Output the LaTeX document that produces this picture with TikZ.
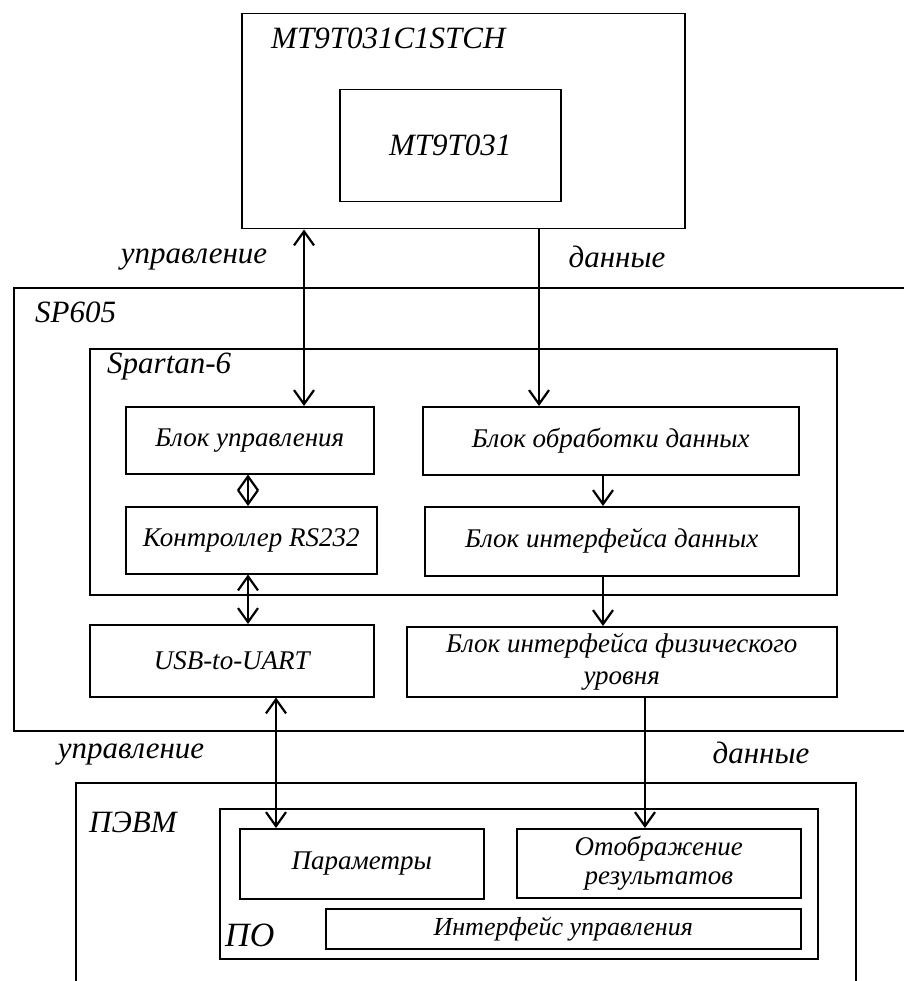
\documentclass[tikz,border=0pt]{standalone}
\usepackage{fontspec}
\setmainfont{Liberation Serif}
\usetikzlibrary{arrows.meta,calc}
\begin{document}
\begin{tikzpicture}[x=1pt,y=-1pt,
  box/.style={draw,line width=1.5pt,anchor=north west,inner sep=0pt,align=center,font=\itshape\fontsize{27}{32}\selectfont},
  lbl/.style={font=\itshape\fontsize{31}{34}\selectfont,inner sep=0pt},
  conn/.style={line width=2.2pt},
  >={Straight Barb[length=14pt,width=20pt,line width=2.2pt]}]
\useasboundingbox (0,0) rectangle (903,981);
\fill[white] (0,0) rectangle (903,981);
% boxes
\node[box,minimum width=443pt,minimum height=215pt] (cam) at (241,13) {};
\node[box,minimum width=221pt,minimum height=112pt,font=\itshape\fontsize{31}{34}\selectfont] (sensor) at (339,89) {MT9T031};
\node[box,minimum width=930pt,minimum height=443pt] (sp) at (13,287) {};
\node[box,minimum width=747pt,minimum height=246pt] (fpga) at (89,348) {};
\node[box,minimum width=248pt,minimum height=67pt] (ctrl) at (125,406) {Блок управления};
\node[box,minimum width=376pt,minimum height=68pt] (proc) at (422,406) {Блок обработки данных};
\node[box,minimum width=251pt,minimum height=67pt] (rs) at (125,506) {Контроллер RS232};
\node[box,minimum width=374pt,minimum height=69pt] (dif) at (424,506) {Блок интерфейса данных};
\node[box,minimum width=284pt,minimum height=72pt] (usb) at (89,624) {USB-to-UART};
\node[box,minimum width=430pt,minimum height=70pt] (phy) at (406,626) {Блок интерфейса физического\\уровня};
\node[box,minimum width=780pt,minimum height=240pt] (pc) at (75,782) {};
\node[box,minimum width=598pt,minimum height=150pt] (po) at (219,808) {};
\node[box,minimum width=244pt,minimum height=70pt] (par) at (239,828) {Параметры};
\node[box,minimum width=284pt,minimum height=69pt,font=\itshape\fontsize{27}{29}\selectfont] (disp) at (516,828) {Отображение\\результатов};
\node[box,minimum width=475pt,minimum height=40pt,font=\itshape\fontsize{26}{28}\selectfont] (ui) at (325,908) {Интерфейс управления};
% labels
\node[lbl,anchor=west] (tcam) at (271,38) {MT9T031C1STCH};
\node[lbl,anchor=west] (tsp) at (35,312) {SP605};
\node[lbl,anchor=west] (tfpga) at (107,367) {Spartan-6};
\node[lbl,anchor=west] (tpc) at (89,822) {ПЭВМ};
\node[lbl,anchor=west,font=\itshape\fontsize{34}{36}\selectfont] (tpo) at (225,935) {ПО};
\node[lbl] (u1) at (194,260) {управление};
\node[lbl] (d1) at (617,257) {данные};
\node[lbl] (u2) at (131,755) {управление};
\node[lbl] (d2) at (761,753) {данные};
% connector x positions
\coordinate (xa) at (304,0);
\coordinate (xb) at (539,0);
\coordinate (xc) at (248,0);
\coordinate (xd) at (603,0);
\coordinate (xe) at (276,0);
\coordinate (xf) at (645,0);
% connectors
\draw[conn,<->] (xa |- cam.south) -- (xa |- ctrl.north);
\draw[conn,->] (xb |- cam.south) -- (xb |- proc.north);
\draw[conn,<->] (xc |- ctrl.south) -- (xc |- rs.north);
\draw[conn,->] (xd |- proc.south) -- (xd |- dif.north);
\draw[conn,<->] (xc |- rs.south) -- (xc |- usb.north);
\draw[conn,->] (xd |- dif.south) -- (xd |- phy.north);
\draw[conn,<->] (xe |- usb.south) -- (xe |- par.north);
\draw[conn,->] (xf |- phy.south) -- (xf |- disp.north);
\end{tikzpicture}
\end{document}
